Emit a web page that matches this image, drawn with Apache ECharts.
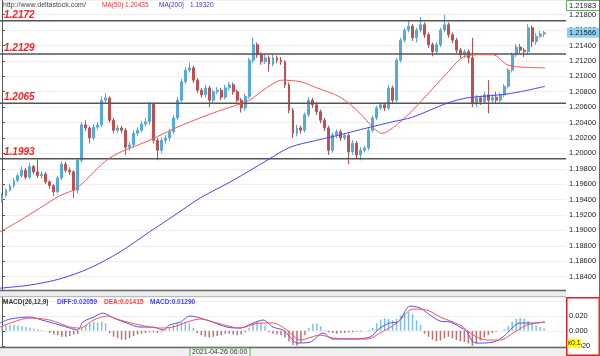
<!DOCTYPE html>
<html><head><meta charset="utf-8">
<script src="https://cdn.jsdelivr.net/npm/echarts@6/dist/echarts.min.js"></script>
<style>html,body{margin:0;padding:0;background:#fff}#c{width:600px;height:356px}</style>
</head><body><div id="c"></div>
<script>
// ---------- DATA ----------
const slotCount = 142;          // candle slots on the time axis (last few empty)
const firstOpen = 1.1939;
const closes = [
 1.1945,1.1952,1.1958,1.1965,1.1971,1.1978,1.1969,1.1983,1.1976,1.1971,
 1.1973,1.1963,1.1958,1.1950,1.1968,1.1986,1.1978,1.1976,1.1952,1.1991,
 1.2037,1.2033,1.2020,1.2034,1.2037,1.2069,1.2072,1.2043,1.2030,1.2033,
 1.2030,1.2008,1.2011,1.2026,1.2030,1.2038,1.2041,1.2064,1.2017,1.2004,
 1.2017,1.2020,1.2028,1.2046,1.2069,1.2093,1.2108,1.2111,1.2095,1.2082,
 1.2076,1.2085,1.2069,1.2080,1.2082,1.2073,1.2085,1.2089,1.2080,1.2069,
 1.2059,1.2074,1.2121,1.2141,1.2128,1.2119,1.2124,1.2116,1.2124,1.2121,
 1.2119,1.2089,1.2056,1.2026,1.2033,1.2030,1.2050,1.2069,1.2063,1.2054,
 1.2043,1.2033,1.2004,1.2024,1.2028,1.2020,1.2023,1.2002,1.2013,1.1998,
 1.2004,1.2007,1.2030,1.2046,1.2059,1.2063,1.2059,1.2085,1.2069,1.2121,
 1.2147,1.2160,1.2165,1.2150,1.2160,1.2167,1.2154,1.2141,1.2132,1.2141,
 1.2160,1.2167,1.2154,1.2147,1.2134,1.2128,1.2132,1.2124,1.2064,1.2072,
 1.2067,1.2076,1.2069,1.2073,1.2069,1.2076,1.2087,1.2108,1.2128,1.2138,
 1.2134,1.2132,1.2163,1.2145,1.2152,1.2155,1.21566];
const highs = [
 1.1948,1.1955,1.1961,1.1968,1.1974,1.1983,1.1981,1.1988,1.1985,1.1992,
 1.1977,1.1976,1.1965,1.1960,1.1971,1.1990,1.1989,1.1982,1.1978,1.1994,
 1.2041,1.2043,1.2035,1.2038,1.2041,1.2074,1.2078,1.2074,1.2046,1.2037,
 1.2036,1.2033,1.2015,1.2030,1.2034,1.2042,1.2046,1.2067,1.2066,1.2020,
 1.2021,1.2024,1.2032,1.2050,1.2073,1.2097,1.2112,1.2118,1.2114,1.2098,
 1.2085,1.2089,1.2088,1.2083,1.2086,1.2085,1.2089,1.2093,1.2092,1.2083,
 1.2072,1.2077,1.2124,1.2150,1.2144,1.2131,1.2128,1.2127,1.2128,1.2127,
 1.2125,1.2121,1.2092,1.2059,1.2037,1.2036,1.2053,1.2073,1.2072,1.2066,
 1.2057,1.2046,1.2036,1.2027,1.2031,1.2031,1.2026,1.2026,1.2017,1.2016,
 1.2008,1.2010,1.2033,1.2049,1.2062,1.2066,1.2066,1.2089,1.2088,1.2124,
 1.2150,1.2163,1.2173,1.2168,1.2163,1.2177,1.2170,1.2157,1.2144,1.2144,
 1.2163,1.2180,1.2170,1.2157,1.2150,1.2137,1.2135,1.2135,1.2150,1.2076,
 1.2075,1.2080,1.2095,1.2077,1.2080,1.2079,1.2090,1.2111,1.2131,1.2142,
 1.2142,1.2137,1.2168,1.2166,1.2156,1.2159,1.2159];
const lows = [
 1.1936,1.1943,1.1950,1.1955,1.1962,1.1968,1.1966,1.1967,1.1973,1.1968,
 1.1967,1.1960,1.1954,1.1945,1.1948,1.1965,1.1975,1.1972,1.1942,1.1948,
 1.1988,1.2029,1.2013,1.2017,1.2031,1.2034,1.2065,1.2040,1.2026,1.2027,
 1.2026,1.1998,1.2003,1.2008,1.2023,1.2027,1.2035,1.2037,1.2013,1.1991,
 1.2000,1.2013,1.2016,1.2025,1.2043,1.2066,1.2090,1.2105,1.2091,1.2078,
 1.2072,1.2073,1.2060,1.2066,1.2077,1.2069,1.2070,1.2082,1.2076,1.2066,
 1.2053,1.2055,1.2071,1.2117,1.2124,1.2115,1.2116,1.2106,1.2113,1.2117,
 1.2115,1.2085,1.2052,1.2020,1.2022,1.2026,1.2027,1.2047,1.2059,1.2050,
 1.2039,1.2029,1.1998,1.2001,1.2020,1.2016,1.2017,1.1986,1.1998,1.1994,
 1.1991,1.2001,1.2004,1.2027,1.2043,1.2056,1.2055,1.2056,1.2065,1.2066,
 1.2118,1.2144,1.2157,1.2146,1.2144,1.2157,1.2150,1.2137,1.2126,1.2129,
 1.2138,1.2157,1.2150,1.2143,1.2130,1.2124,1.2124,1.2117,1.2060,1.2060,
 1.2063,1.2064,1.2052,1.2066,1.2065,1.2066,1.2073,1.2084,1.2105,1.2125,
 1.2130,1.2125,1.2128,1.2138,1.2141,1.2149,1.2151];
// moving averages: [candle index, value]
const ma50 = [[-0.5,1.1898],[4.5,1.1913],[9.5,1.1929],[14.5,1.1945],[18.8,1.1955],[27,1.1994],
 [37,1.2017],[45.3,1.2037],[53.8,1.2054],[62,1.2069],[66.3,1.2085],[70.3,1.2095],[74.8,1.2093],
 [79,1.2085],[84.8,1.2073],[89.8,1.2052],[93,1.2034],[95.3,1.2026],[98,1.2033],[103,1.2056],
 [111.6,1.2104],[115.7,1.2125],[120,1.2128],[123.2,1.2128],[126.7,1.2115],[130,1.2112],[136.2,1.2111]];
const ma200 = [[-0.5,1.1825],[7,1.1829],[14.5,1.1837],[22,1.1851],[29.6,1.1872],[37,1.1898],
 [43.4,1.1920],[49.7,1.1942],[58,1.1965],[66.5,1.1991],[72.3,1.2008],[79,1.2017],[84.8,1.2024],
 [91.6,1.2033],[98,1.2041],[103,1.2047],[111.6,1.2065],[116.7,1.2072],[125,1.2076],[130,1.2080],[136.2,1.2087]];
const macdHist = [
 0.006,0.007,0.008,0.008,0.007,0.006,0.005,
 0.004,0.003,0.002,0.001,0.000,
 -0.003,-0.005,-0.006,-0.008,-0.008,-0.007,-0.005,
 -0.004,
 0.004,0.008,0.010,0.012,0.011,0.012,0.010,
 -0.003,-0.008,-0.010,-0.012,-0.012,-0.010,
 -0.007,-0.005,-0.004,-0.003,-0.002,
 -0.002,-0.003,-0.001,
 0.002,0.005,0.008,0.010,0.011,0.012,0.010,
 0.004,
 -0.003,-0.006,-0.008,-0.009,-0.008,-0.007,-0.006,-0.004,
 -0.004,-0.005,-0.006,-0.005,-0.002,
 0.004,0.010,0.013,0.011,0.007,
 -0.002,-0.004,-0.005,-0.006,-0.009,-0.014,-0.019,-0.021,-0.016,-0.006,
 0.004,0.009,0.010,0.006,0.001,
 -0.002,-0.003,-0.004,-0.003,-0.003,-0.002,-0.002,-0.001,-0.001,0.000,
 0.001,0.004,0.010,0.015,0.017,0.016,0.014,0.016,0.020,0.024,0.025,0.022,0.014,0.008,
 -0.004,-0.008,-0.012,-0.014,-0.013,-0.010,
 -0.008,-0.010,-0.012,-0.014,-0.015,-0.017,-0.020,
 -0.017,-0.013,-0.009,-0.006,-0.003,
 -0.001,0.000,0.002,
 0.006,0.012,0.016,0.017,0.016,0.013,0.010,0.007,0.005,
 0.003];
const macdDiff = [[-0.5,0.0103],[2,0.0156],[7,0.0183],[10,0.0143],[14.5,0.0076],[17,0.0036],[19,0.0009],
 [20.3,0.0116],[23,0.0183],[25.3,0.0236],[28,0.0169],[31.3,0.0103],[34.6,0.0049],[38,0.0049],[40.4,0.0009],
 [42,0.0076],[44.7,0.0116],[47.2,0.0196],[51.4,0.0143],[56.4,0.0049],[59.7,0.0036],[63,0.0103],[65.5,0.0143],
 [68,0.0049],[70.5,0.0009],[72.3,-0.0084],[74,-0.0164],[77.3,-0.0151],[80.5,-0.0031],[83,-0.0111],[87.3,-0.0111],
 [92.3,-0.0084],[94.8,0.0036],[97.3,0.0103],[99.3,0.0116],[102.4,0.0329],[104.9,0.0303],[107.4,0.0209],
 [109.9,0.0129],[112.4,0.0116],[114.9,0.0049],[116.7,-0.0017],[118.2,-0.0151],[119.9,-0.0164],[123.2,-0.0151],
 [125.7,-0.0084],[128.2,0.0049],[129.9,0.0103],[133.2,0.0103],[136.2,0.0116]];
const macdDea = [[-0.5,0.0049],[7,0.0169],[12,0.0143],[17,0.0049],[19.5,0.0036],[23,0.0143],[26.3,0.0196],
 [29.6,0.0143],[34.6,0.0076],[39.6,0.0036],[42.9,0.0049],[46.4,0.0116],[49.7,0.0156],[53.9,0.0103],[59.7,0.0036],
 [64.7,0.0103],[68,0.0103],[71.5,0.0009],[74.8,-0.0124],[79.8,-0.0057],[83,-0.0097],[91.6,-0.0111],[94.8,-0.0031],
 [99.1,0.0103],[103.1,0.0289],[106.6,0.0276],[109.9,0.0183],[114.9,0.0076],[118.2,-0.0057],[121.7,-0.0124],
 [125,-0.0124],[128.2,-0.0031],[131.7,0.0076],[136.2,0.0116]];
const levels = [1.2172, 1.2129, 1.2065, 1.1993];
const headerMA50 = '1.20435', headerMA200 = '1.19320';
const headerDiff = '0.02059', headerDea = '0.01415', headerMacd = '0.01290';
const topPriceLabel = '1.21983';
const dateLabel = '2021-04-26 06:00';

// ---------- BUILD ----------
const categories = Array.from({length: slotCount}, (_, i) => String(i));
const candles = closes.map((c, i) => {
  const o = i === 0 ? firstOpen : closes[i - 1];
  return [o, c, lows[i], highs[i]];
});
const UP = '#55aadd', DOWN = '#c05050';
const FONT = 'Liberation Sans, Arial, sans-serif';

const chart = echarts.init(document.getElementById('c'), null, {renderer: 'canvas'});
const W = 566;
const levelSeries = levels.map(v => ({
  type: 'line', xAxisIndex: 1, yAxisIndex: 0, data: [[-0.5, v], [slotCount - 0.5, v]],
  showSymbol: false, silent: true, z: 3,
  lineStyle: {color: '#555', width: 1.5}
}));
const option = {
  animation: false,
  backgroundColor: '#fff',
  grid: [
    {left: 0, width: W, top: 0, height: 292, outerBoundsMode: 'none'},
    {left: 0, width: W, top: 297, height: 48.75, outerBoundsMode: 'none'}
  ],
  xAxis: [
    {type: 'category', gridIndex: 0, data: categories, show: false, boundaryGap: true},
    {type: 'value', gridIndex: 0, min: -0.5, max: slotCount - 0.5, show: false},
    {type: 'category', gridIndex: 1, data: categories, show: false, boundaryGap: true},
    {type: 'value', gridIndex: 1, min: -0.5, max: slotCount - 0.5, show: false}
  ],
  yAxis: [
    {type: 'value', gridIndex: 0, position: 'right', min: 1.182, max: 1.21991, interval: 0.002,
     axisLine: {show: true, lineStyle: {color: '#555', width: 1}},
     axisTick: {show: true, length: 3, lineStyle: {color: '#555'}},
     axisLabel: {fontSize: 7.5, color: '#222', margin: 3, fontFamily: FONT,
       showMinLabel: false, showMaxLabel: false, formatter: v => v.toFixed(5)},
     splitLine: {show: true, lineStyle: {color: '#efefef', width: 1}}},
    {type: 'value', gridIndex: 1, position: 'right', min: -0.02, max: 0.045, interval: 0.02,
     axisLine: {show: true, lineStyle: {color: '#555', width: 1}},
     axisTick: {show: true, length: 3, lineStyle: {color: '#555'}},
     axisLabel: {fontSize: 7.5, color: '#222', margin: 3, fontFamily: FONT, showMaxLabel: false,
       formatter: v => (v > 0.03 ? '' : v.toFixed(3))},
     splitLine: {show: true, lineStyle: {color: '#efefef', width: 1}}}
  ],
  series: [
    {type: 'candlestick', xAxisIndex: 0, yAxisIndex: 0, data: candles, barWidth: 2.4,
     itemStyle: {color: UP, color0: DOWN, borderColor: UP, borderColor0: DOWN, borderWidth: 1}},
    {type: 'line', xAxisIndex: 1, yAxisIndex: 0, data: ma50, showSymbol: false, smooth: 0.3,
     lineStyle: {color: '#ff5555', width: 1}, z: 5},
    {type: 'line', xAxisIndex: 1, yAxisIndex: 0, data: ma200, showSymbol: false, smooth: 0.3,
     lineStyle: {color: '#4444ff', width: 1}, z: 5},
    {type: 'bar', xAxisIndex: 2, yAxisIndex: 1, data: macdHist, barWidth: 1.5,
     itemStyle: {color: p => (p.value >= 0 ? '#7cc0e4' : '#c07070')}},
    {type: 'line', xAxisIndex: 3, yAxisIndex: 1, data: macdDiff, showSymbol: false, smooth: 0.3,
     lineStyle: {color: '#5050ff', width: 1}, z: 5},
    {type: 'line', xAxisIndex: 3, yAxisIndex: 1, data: macdDea, showSymbol: false, smooth: 0.3,
     lineStyle: {color: '#ff5050', width: 1}, z: 5}
  ].concat(levelSeries)
};
chart.setOption(option);

const lastY = chart.convertToPixel({yAxisIndex: 0}, closes[closes.length - 1]);
const txt = (x, y, text, fill, extra) => Object.assign({type: 'text', x, y, z: 100,
  style: Object.assign({text, fill, fontSize: 6.5, fontFamily: FONT, textVerticalAlign: 'top'}, extra || {})});
const levelLabels = levels.map(v => txt(4, chart.convertToPixel({yAxisIndex: 0}, v) - 11, v.toFixed(4), '#ff2020',
  {fontSize: 10, fontWeight: 'bold', fontStyle: 'italic'}));
const bold = {fontWeight: 'bold', fontSize: 6.5};
chart.setOption({graphic: levelLabels.concat([
  txt(3, 2, 'http://www.deltastock.com/', '#444', {fontSize: 7}),
  txt(102, 2, 'MA(50)', '#ff3030'),
  txt(125, 2, headerMA50, '#ff3030'),
  txt(159, 2, 'MA(200)', '#3030ff'),
  txt(190, 2, headerMA200, '#3030ff'),
  {type: 'rect', z: 90, shape: {x: 0, y: 290, width: W, height: 6}, style: {fill: '#ececec'}},
  {type: 'line', z: 91, shape: {x1: 0, y1: 290.5, x2: W, y2: 290.5}, style: {stroke: '#666', lineWidth: 1.5}},
  {type: 'line', z: 91, shape: {x1: 0, y1: 296.5, x2: W, y2: 296.5}, style: {stroke: '#bbb', lineWidth: 1}},
  {type: 'rect', z: 90, shape: {x: 0, y: 348, width: W, height: 8}, style: {fill: '#efefef'}},
  {type: 'line', z: 91, shape: {x1: 0, y1: 347.5, x2: W, y2: 347.5}, style: {stroke: '#666', lineWidth: 1.5}},
  {type: 'rect', z: 92, shape: {x: 190, y: 348, width: 60, height: 10}, style: {fill: '#f6f6f6', stroke: '#55aa55', lineWidth: 1}},
  txt(192, 349, dateLabel, '#333', {fontSize: 7}),
  txt(3, 299, 'MACD(26,12,9)', '#333', bold),
  txt(57, 299, 'DIFF:' + headerDiff, '#4040ff', bold),
  txt(104, 299, 'DEA:' + headerDea, '#ff4040', bold),
  txt(150, 299, 'MACD:' + headerMacd, '#4040ff', bold),
  {type: 'rect', z: 95, shape: {x: 566.5, y: 0.5, width: 33, height: 10}, style: {fill: '#fff', stroke: '#66aa66', lineWidth: 1}},
  txt(569, 2, topPriceLabel, '#222', {fontSize: 7.5}),
  {type: 'rect', z: 95, shape: {x: 567, y: lastY - 5, width: 32, height: 10}, style: {fill: '#8fd0f0'}},
  txt(569, lastY - 4, closes[closes.length - 1].toFixed(5), '#222', {fontSize: 7.5}),
  {type: 'rect', z: 95, shape: {x: 566.75, y: 297.75, width: 32.5, height: 57.5}, style: {fill: null, stroke: '#e02020', lineWidth: 1.5}},
  {type: 'rect', z: 96, shape: {x: 567, y: 339, width: 14, height: 9}, style: {fill: '#ffff00'}},
  txt(567.5, 340, 'x0.1', '#222', {fontSize: 7}),
  {type: 'line', z: 96, shape: {x1: 599.5, y1: 0, x2: 599.5, y2: 356}, style: {stroke: '#666', lineWidth: 1}}
])});
</script></body></html>
